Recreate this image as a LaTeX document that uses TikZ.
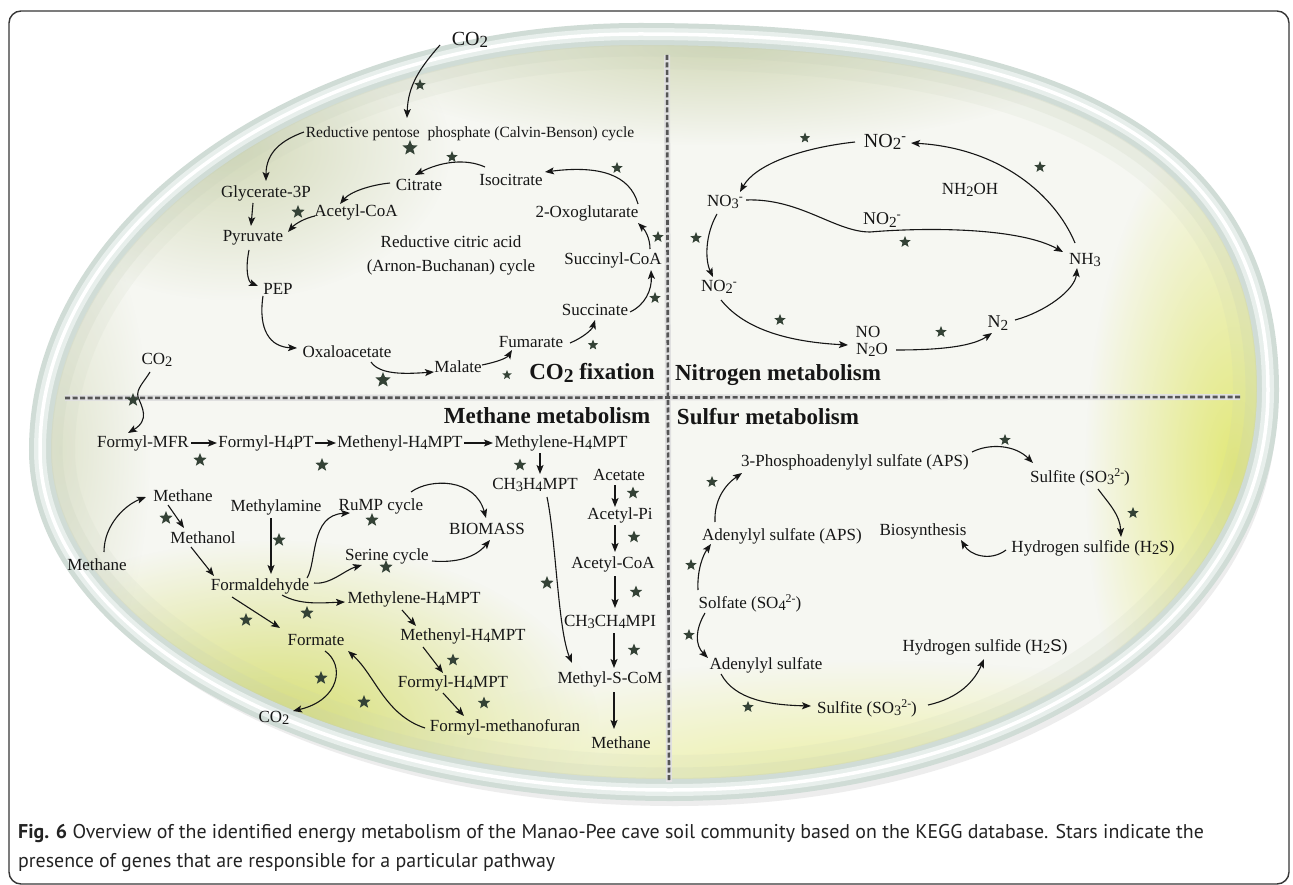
\documentclass[tikz,border=0pt]{standalone}
\usepackage{fontspec}
\setmainfont{Liberation Serif}
\newfontfamily\capfont{PT Sans}
\newfontfamily\sansS{Liberation Sans}
\usetikzlibrary{arrows.meta,shapes.geometric,fadings}
\definecolor{starc}{RGB}{52,66,54}
\definecolor{bgc}{RGB}{246,247,242}
\definecolor{txtc}{RGB}{22,22,22}
\definecolor{capc}{RGB}{35,35,35}
\definecolor{framec}{RGB}{55,55,55}
\definecolor{rimA}{RGB}{208,220,214}
\definecolor{rimB}{RGB}{232,239,236}
\definecolor{innerc}{RGB}{196,206,184}
\definecolor{yelA}{RGB}{214,222,110}
\definecolor{yelB}{RGB}{226,232,120}
\definecolor{yelC}{RGB}{236,240,160}
\definecolor{grnA}{RGB}{212,218,186}
\definecolor{divc}{RGB}{85,85,85}
\tikzfading[name=blobfade, inner color=transparent!0, outer color=transparent!100]
\makeatletter
\newcommand\dn[1]{\raisebox{-0.3ex}{\fontsize{\the\dimexpr0.85\dimexpr\f@size pt\relax\relax}{0pt}\selectfont #1}}
\newcommand\upx[1]{\raisebox{0.75ex}{\fontsize{\the\dimexpr0.7\dimexpr\f@size pt\relax\relax}{0pt}\selectfont #1}}
\makeatother
\def\rimpath{(40,450) .. controls (40,221) and (310,34) .. (640,34) .. controls (1067,34) and (1268,148) .. (1268,390) .. controls (1268,622) and (1017,790) .. (670,790) .. controls (323,790) and (40,637) .. (40,450) -- cycle}
\begin{document}
\begin{tikzpicture}[x=1pt,y=-1pt,
  lab/.style={font=\fontsize{17}{19}\selectfont, text=txtc, inner sep=1pt},
  ttl/.style={font=\bfseries\fontsize{23}{26}\selectfont, text=txtc, inner sep=1pt},
  gstar/.style={star, star points=5, star point ratio=2.3, fill=starc, draw=none, inner sep=0pt, minimum size=#1},
  gstar/.default=13,
  conn/.style={draw=txtc, line width=1.1pt, -{Stealth[length=9pt,width=7pt,inset=2pt]}},
  blob/.style={fill=#1, path fading=blobfade},
  capline/.style={anchor=base west, inner sep=0pt, text=capc, font=\capfont\fontsize{19.9}{22}\selectfont}
]
\useasboundingbox (0,0) rectangle (1293,885);
\fill[white] (0,0) rectangle (1293,885);
\draw[framec, line width=1.4pt, rounded corners=12pt] (9,11) rectangle (1289,884);

% cell body
\begin{scope}[shift={(5,12)}]
\draw[line width=8pt, black!7] \rimpath;
\end{scope}
\fill[bgc] \rimpath;
\begin{scope}
\clip \rimpath;
\fill[blob=yelA] (270,730) ellipse (330 and 190);
\fill[blob=yelB] (1235,470) ellipse (150 and 360);
\fill[blob=yelC] (860,790) ellipse (520 and 130);
\fill[blob=grnA] (720,45) ellipse (380 and 100);
\fill[blob=grnA] (230,150) ellipse (220 and 150);
\fill[blob=grnA, opacity=0.6] (60,450) ellipse (90 and 250);
\draw[line width=70pt, innerc, opacity=0.12] \rimpath;
\draw[line width=45pt, innerc, opacity=0.18] \rimpath;
\draw[line width=24pt, innerc, opacity=0.25] \rimpath;
\end{scope}
\draw[line width=22pt, rimA] \rimpath;
\draw[line width=12pt, rimB] \rimpath;
\draw[line width=3.5pt, white] \rimpath;

% dividers
\draw[line width=6pt, black!12] (667,55) -- (669,782);
\draw[line width=6pt, black!12] (65,398) -- (1240,397);
\draw[line width=2.6pt, divc, dash pattern=on 5pt off 2.5pt] (667,55) -- (669,782);
\draw[line width=2.6pt, divc, dash pattern=on 5pt off 2.5pt] (65,398) -- (1240,397);

% titles
\node[ttl] (tco2) at (592,373) {CO\dn{2} fixation};
\node[ttl] (tnit) at (778,375) {Nitrogen metabolism};
\node[ttl] (tmeth) at (547,416) {Methane metabolism};
\node[ttl] (tsul) at (768,417) {Sulfur metabolism};

% ---------- CO2 fixation ----------
\node[lab, font=\fontsize{20}{22}\selectfont] (co2a) at (470,40) {CO\dn{2}};
\node[lab, font=\fontsize{15.5}{18}\selectfont] (calvin) at (470,134) {Reductive pentose\ \ phosphate (Calvin-Benson) cycle};
\node[lab] (glyc) at (266,193) {Glycerate-3P};
\node[lab] (pyr) at (253,238) {Pyruvate};
\node[lab] (pep) at (278,289) {PEP};
\node[lab] (oxa) at (347,352) {Oxaloacetate};
\node[lab] (mal) at (458,367) {Malate};
\node[lab] (fum) at (531,342) {Fumarate};
\node[lab] (succ) at (595,310) {Succinate};
\node[lab] (succoa) at (613,260) {Succinyl-CoA};
\node[lab] (oxo) at (587,213) {2-Oxoglutarate};
\node[lab] (iso) at (511,180) {Isocitrate};
\node[lab] (cit) at (419,185) {Citrate};
\node[lab] (acoa1) at (356,212) {Acetyl-CoA};
\node[lab] (rca1) at (451,242) {Reductive citric acid};
\node[lab] (rca2) at (451,267) {(Arnon-Buchanan) cycle};

\draw[conn] ([shift={(-30,5)}]co2a.center) .. controls +(-20,23) and +(1,-33) .. ([shift={(-63,-16)}]calvin.center);
\draw[conn] ([shift={(-166,-2)}]calvin.center) .. controls +(-22,8) and +(0,-29) .. ([shift={(0,-12)}]glyc.center);
\draw[conn] ([shift={(-26,-13)}]iso.center) .. controls +(-20,-9) and +(25,-13) .. ([shift={(-4,-10)}]cit.center);
\draw[conn] ([shift={(51,-9)}]oxo.center) .. controls +(-8,-29) and +(55,-7) .. ([shift={(34,-8)}]iso.center);
\draw[conn] ([shift={(37,-11)}]succoa.center) .. controls +(0,-11) and +(7,7) .. ([shift={(51,10)}]oxo.center);
\draw[conn] ([shift={(35,2)}]succ.center) .. controls +(15,-7) and +(1,20) .. ([shift={(38,10)}]succoa.center);
\draw[conn] ([shift={(39,1)}]fum.center) .. controls +(12,-5) and +(-3,10) .. ([shift={(0,10)}]succ.center);
\draw[conn] ([shift={(24,-2)}]mal.center) .. controls +(15,-3) and +(-5,8) .. ([shift={(-19,8)}]fum.center);
\draw[conn] ([shift={(24,10)}]oxa.center) .. controls +(9,13) and +(-29,2) .. ([shift={(-24,5)}]mal.center);
\draw[conn] ([shift={(-15,7)}]pep.center) .. controls +(-5,34) and +(-27,-1) .. ([shift={(-50,-4)}]oxa.center);
\draw[conn] ([shift={(-4,12)}]pyr.center) .. controls +(-4,20) and +(-10,-4) .. ([shift={(-20,-3)}]pep.center);
\draw[conn] ([shift={(-13,10)}]glyc.center) -- ([shift={(-2,-12)}]pyr.center);
\draw[conn] ([shift={(-29,-2)}]cit.center) .. controls +(-20,2) and +(10,-12) .. ([shift={(-16,-8)}]acoa1.center);
\draw[conn] ([shift={(-41,4)}]acoa1.center) .. controls +(-10,2) and +(7,-8) .. ([shift={(35,-6)}]pyr.center);

\node[gstar=12] (s1) at (420,85) {};
\node[gstar=16] (s2) at (410,148) {};
\node[gstar=12] (s3) at (452,157) {};
\node[gstar=12] (s4) at (617,168) {};
\node[gstar=12] (s5) at (658,237) {};
\node[gstar=12] (s6) at (655,298) {};
\node[gstar=11] (s7) at (593,345) {};
\node[gstar=10] (s8) at (507,375) {};
\node[gstar=16] (s9) at (383,380) {};
\node[gstar=14] (s10) at (298,212) {};

% ---------- Methane metabolism ----------
\node[lab] (co2b) at (157,360) {CO\dn{2}};
\node[lab] (fmfr) at (143,443) {Formyl-MFR};
\node[lab] (fh4pt) at (266,443) {Formyl-H\dn{4}PT};
\node[lab] (meh4) at (400,443) {Methenyl-H\dn{4}MPT};
\node[lab] (mlh4) at (561,443) {Methylene-H\dn{4}MPT};
\node[lab] (ch3) at (535,485) {CH\dn{3}H\dn{4}MPT};
\node[lab] (ace) at (619,475) {Acetate};
\node[lab] (apn) at (620,515) {Acetyl-Pi};
\node[lab] (acoa2) at (613,564) {Acetyl-CoA};
\node[lab] (ch3c) at (610,622) {CH\dn{3}CH\dn{4}MPI};
\node[lab] (msc) at (610,679) {Methyl-S-CoM};
\node[lab] (meth3) at (621,743) {Methane};

\draw[conn] ([shift={(-7,12)}]co2b.center) .. controls +(-6,10) and +(-2,-8) .. ++(-12,25) .. controls +(4,10) and +(22,-13) .. ([shift={(-15,-10)}]fmfr.center);
\draw[conn] ([shift={(48,0)}]fmfr.center) -- ([shift={(-49,0)}]fh4pt.center);
\draw[conn] ([shift={(49,0)}]fh4pt.center) -- ([shift={(-64,0)}]meh4.center);
\draw[conn] ([shift={(64,0)}]meh4.center) -- ([shift={(-68,0)}]mlh4.center);
\draw[conn] ([shift={(-21,10)}]mlh4.center) -- ([shift={(5,-11)}]ch3.center);
\draw[conn] ([shift={(-4,10)}]ace.center) -- ([shift={(-5,-8)}]apn.center);
\draw[conn] ([shift={(-5,10)}]apn.center) -- ([shift={(2,-12)}]acoa2.center);
\draw[conn] ([shift={(2,12)}]acoa2.center) -- ([shift={(5,-14)}]ch3c.center);
\draw[conn] ([shift={(4,11)}]ch3c.center) -- ([shift={(4,-11)}]msc.center);
\draw[conn] ([shift={(4,13)}]msc.center) -- ([shift={(-7,-14)}]meth3.center);
\draw[conn] ([shift={(12,12)}]ch3.center) .. controls +(9,43) and +(-14,-33) .. ([shift={(-38,-16)}]msc.center);

\node[gstar=14] (s11) at (133,400) {};
\node[gstar=14] (s12) at (200,460) {};
\node[gstar=14] (s13) at (322,465) {};
\node[gstar=13] (s14) at (520,465) {};
\node[gstar=13] (s15) at (633,493) {};
\node[gstar=13] (s16) at (634,537) {};
\node[gstar=13] (s17) at (636,592) {};
\node[gstar=13] (s18) at (634,650) {};
\node[gstar=14] (s19) at (547,583) {};

\node[lab] (mup) at (183,496) {Methane};
\node[lab] (mleft) at (97,565) {Methane};
\node[lab] (mol) at (203,538) {Methanol};
\node[lab] (fald) at (260,586) {Formaldehyde};
\node[lab] (mam) at (276,507) {Methylamine};
\node[lab] (rump) at (381,506) {RuMP cycle};
\node[lab] (bio) at (487,529) {BIOMASS};
\node[lab] (ser) at (387,556) {Serine cycle};
\node[lab] (mlh4b) at (414,599) {Methylene-H\dn{4}MPT};
\node[lab] (formate) at (316,640) {Formate};
\node[lab] (meh4b) at (463,636) {Methenyl-H\dn{4}MPT};
\node[lab] (fh4b) at (453,683) {Formyl-H\dn{4}MPT};
\node[lab] (fmf) at (505,727) {Formyl-methanofuran};
\node[lab] (co2c) at (274,718) {CO\dn{2}};

\draw[conn] ([shift={(7,-13)}]mleft.center) .. controls +(0,-27) and +(-21,8) .. ([shift={(-37,1)}]mup.center);
\draw[conn] ([shift={(-15,9)}]mup.center) -- ([shift={(-19,-10)}]mol.center);
\draw[conn] ([shift={(-12,9)}]mol.center) -- ([shift={(-46,-10)}]fald.center);
\draw[conn] ([shift={(-5,11)}]mam.center) -- ([shift={(11,-12)}]fald.center);
\draw[conn] ([shift={(47,-8)}]fald.center) .. controls +(10,-16) and +(-40,2) .. ([shift={(-31,7)}]rump.center);
\draw[conn] ([shift={(30,-14)}]rump.center) .. controls +(19,-14) and +(-11,-40) .. ([shift={(-1,-11)}]bio.center);
\draw[conn] ([shift={(45,5)}]ser.center) .. controls +(23,2) and +(-15,18) .. ([shift={(3,11)}]bio.center);
\draw[conn] ([shift={(54,-3)}]fald.center) .. controls +(16,2) and +(-17,5) .. ([shift={(-25,9)}]ser.center);
\draw[conn] ([shift={(22,9)}]fald.center) .. controls +(18,10) and +(-25,1) .. ([shift={(-69,3)}]mlh4b.center);
\draw[conn] ([shift={(-28,11)}]fald.center) -- ([shift={(-36,-12)}]formate.center);
\draw[conn] ([shift={(-12,11)}]mlh4b.center) -- ([shift={(-47,-10)}]meh4b.center);
\draw[conn] ([shift={(-40,11)}]meh4b.center) -- ([shift={(-10,-10)}]fh4b.center);
\draw[conn] ([shift={(-10,10)}]fh4b.center) -- ([shift={(-41,-11)}]fmf.center);
\draw[conn] ([shift={(-80,1)}]fmf.center) .. controls +(-40,-13) and +(27,24) .. ([shift={(32,11)}]formate.center);
\draw[conn] ([shift={(9,11)}]formate.center) .. controls +(20,14) and +(47,-11) .. ([shift={(19,-7)}]co2c.center);

\node[gstar=14] (s20) at (166,518) {};
\node[gstar=14] (s21) at (279,540) {};
\node[gstar=14] (s22) at (372,520) {};
\node[gstar=14] (s23) at (386,567) {};
\node[gstar=14] (s24) at (246,620) {};
\node[gstar=14] (s25) at (307,613) {};
\node[gstar=13] (s26) at (453,660) {};
\node[gstar=13] (s27) at (484,703) {};
\node[gstar=14] (s28) at (364,702) {};
\node[gstar=14] (s29) at (321,678) {};

% ---------- Nitrogen metabolism ----------
\node[lab, font=\fontsize{20}{22}\selectfont] (no2t) at (885,142) {NO\dn{2}\upx{-}};
\node[lab] (no3) at (725,202) {NO\dn{3}\upx{-}};
\node[lab] (nh2oh) at (970,190) {NH\dn{2}OH};
\node[lab, font=\fontsize{18}{20}\selectfont] (no2m) at (882,220) {NO\dn{2}\upx{-}};
\node[lab] (nh3) at (1085,260) {NH\dn{3}};
\node[lab] (no2l) at (719,287) {NO\dn{2}\upx{-}};
\node[lab] (no) at (868,332) {NO};
\node[lab] (n2o) at (872,350) {N\dn{2}O};
\node[lab, font=\fontsize{18}{20}\selectfont] (n2) at (998,323) {N\dn{2}};

\draw[conn] ([shift={(-10,-17)}]nh3.center) .. controls +(-20,-48) and +(89,5) .. ([shift={(26,1)}]no2t.center);
\draw[conn] ([shift={(-30,0)}]no2t.center) .. controls +(-55,6) and +(15,-27) .. ([shift={(15,-10)}]no3.center);
\draw[conn] ([shift={(21,-2)}]no3.center) .. controls +(54,-2) and +(-35,0) .. ++(124,32) .. controls +(60,-5) and +(-43,-24) .. ([shift={(-22,-8)}]nh3.center);
\draw[conn] ([shift={(-8,12)}]no3.center) .. controls +(-12,21) and +(-8,-17) .. ([shift={(-6,-10)}]no2l.center);
\draw[conn] ([shift={(2,13)}]no2l.center) .. controls +(24,30) and +(-58,-3) .. ([shift={(-24,-5)}]n2o.center);
\draw[conn] ([shift={(24,0)}]n2o.center) .. controls +(34,0) and +(-22,15) .. ([shift={(-6,10)}]n2.center);
\draw[conn] ([shift={(17,-3)}]n2.center) .. controls +(30,-8) and +(-2,22) .. ([shift={(-8,8)}]nh3.center);

\node[gstar=12] (s30) at (1040,167) {};
\node[gstar=11] (s31) at (805,138) {};
\node[gstar=12] (s32) at (905,242) {};
\node[gstar=12] (s33) at (696,238) {};
\node[gstar=12] (s34) at (780,320) {};
\node[gstar=12] (s35) at (941,332) {};

% ---------- Sulfur metabolism ----------
\node[lab] (paps) at (855,462) {3-Phosphoadenylyl sulfate (APS)};
\node[lab] (sul1) at (1080,477) {Sulfite (SO\dn{3}\upx{2-})};
\node[lab] (h2s1) at (1093,548) {Hydrogen sulfide (H\dn{2}S)};
\node[lab] (bios) at (923,531) {Biosynthesis};
\node[lab] (aps) at (782,536) {Adenylyl sulfate (APS)};
\node[lab] (sol) at (750,603) {Solfate (SO\dn{4}\upx{2-})};
\node[lab] (ads) at (766,665) {Adenylyl sulfate};
\node[lab] (sul2) at (867,708) {Sulfite (SO\dn{3}\upx{2-})};
\node[lab] (h2s2) at (985,647) {Hydrogen sulfide (H\dn{2}{\sansS S})};

\draw[conn] ([shift={(117,-10)}]paps.center) .. controls +(18,-9) and +(-18,-18) .. ([shift={(-47,-14)}]sul1.center);
\draw[conn] ([shift={(18,12)}]sul1.center) .. controls +(12,16) and +(-1,-22) .. ([shift={(28,-11)}]h2s1.center);
\draw[conn] ([shift={(-87,2)}]h2s1.center) .. controls +(-16,12) and +(9,15) .. ([shift={(38,9)}]bios.center);
\draw[conn] ([shift={(-67,-14)}]aps.center) .. controls +(-1,-22) and +(-17,12) .. ([shift={(-113,11)}]paps.center);
\draw[conn] ([shift={(-52,-13)}]sol.center) .. controls +(-1,-20) and +(-8,11) .. ([shift={(-71,8)}]aps.center);
\draw[conn] ([shift={(-45,10)}]sol.center) .. controls +(-10,17) and +(-13,-13) .. ([shift={(-58,-7)}]ads.center);
\draw[conn] ([shift={(-45,9)}]ads.center) .. controls +(14,26) and +(-41,-1) .. ([shift={(-56,-2)}]sul2.center);
\draw[conn] ([shift={(61,-3)}]sul2.center) .. controls +(32,-7) and +(-9,21) .. ([shift={(-1,12)}]h2s2.center);

\node[gstar=12] (s36) at (1005,440) {};
\node[gstar=12] (s37) at (1133,513) {};
\node[gstar=12] (s38) at (712,482) {};
\node[gstar=12] (s39) at (691,565) {};
\node[gstar=12] (s40) at (689,635) {};
\node[gstar=12] (s41) at (748,707) {};

% ---------- caption ----------
\node[capline] (cap1) at (18,838) {\textbf{Fig. 6} Overview of the identified energy metabolism of the Manao-Pee cave soil community based on the KEGG database. Stars indicate the};
\node[capline] (cap2) at (18,867) {presence of genes that are responsible for a particular pathway};
\end{tikzpicture}
\end{document}
